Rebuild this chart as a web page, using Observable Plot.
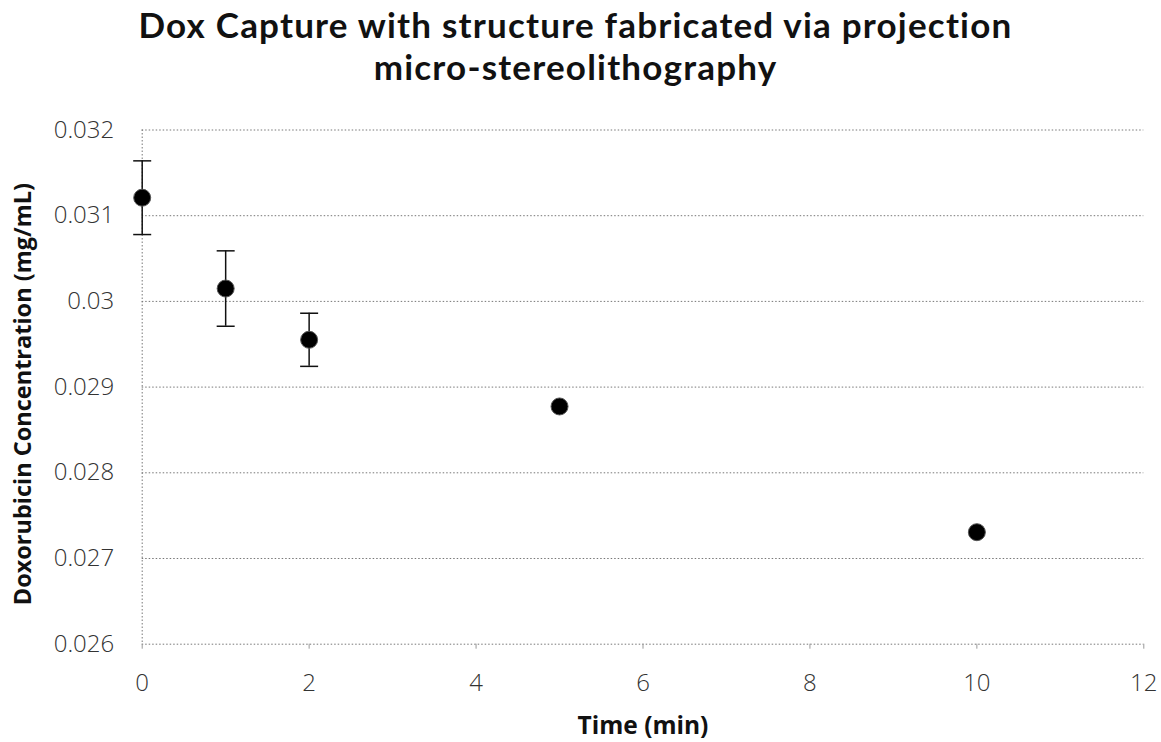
<!DOCTYPE html>
<html>
<head>
<meta charset="utf-8">
<script src="https://cdn.jsdelivr.net/npm/d3@7"></script>
<script src="https://cdn.jsdelivr.net/npm/@observablehq/plot@0.6"></script>
<style>
  html, body { margin: 0; padding: 0; background: #fff; }
  #title {
    width: 1161px; height: 100px; box-sizing: border-box;
    padding-top: 3px; padding-right: 10px;
    text-align: center; font-family: Lato, sans-serif; font-weight: 700;
    font-size: 35px; line-height: 42px; letter-spacing: 1.2px; color: #111;
  }
  svg { display: block; }
</style>
</head>
<body>
<div id="title">Dox Capture with structure fabricated via projection<br>micro-stereolithography</div>
<div id="chart"></div>
<script>
const times = [0, 1, 2, 5, 10];
const concentration = [0.03121, 0.03015, 0.029552, 0.028774, 0.027307];
const errors = [0.00043, 0.00044, 0.00031, 0, 0];
const xTicks = [0, 2, 4, 6, 8, 10, 12];
const yTicks = [0.026, 0.027, 0.028, 0.029, 0.030, 0.031, 0.032];
const yTickLabels = ["0.026", "0.027", "0.028", "0.029", "0.03", "0.031", "0.032"];

const data = times.map((t, i) => ({t, c: concentration[i], lo: concentration[i] - errors[i], hi: concentration[i] + errors[i], e: errors[i]}));
const withErr = data.filter(d => d.e > 0);

const capSymbol = {
  draw(context, size) {
    const w = Math.sqrt(size / Math.PI);
    context.moveTo(-w, 0);
    context.lineTo(w, 0);
  }
};

const chart = Plot.plot({
  width: 1161,
  height: 642,
  marginTop: 29.5,
  marginBottom: 98.3,
  marginLeft: 141.7,
  marginRight: 17.7,
  style: {fontFamily: "'Open Sans', sans-serif", background: "#fff"},
  x: {domain: [0, 12]},
  y: {domain: [0.026, 0.032]},
  marks: [
    Plot.gridY(yTicks, {stroke: "#777", strokeOpacity: 1, strokeDasharray: "1.5,2", strokeWidth: 1}),
    Plot.ruleX([0], {stroke: "#777", strokeDasharray: "1.5,2", strokeWidth: 1}),
    Plot.axisX(xTicks, {tickSize: 5, stroke: "#999", tickPadding: 25, fontSize: 24, fontWeight: 300, fill: "#333", label: null}),
    Plot.axisY(yTicks, {tickSize: 0, tickPadding: 28, fontSize: 24, fontWeight: 300, fill: "#333", tickFormat: (d, i) => yTickLabels[i], label: null}),
    Plot.text(["Time (min)"], {frameAnchor: "bottom", dy: 90, fontSize: 24.5, fontWeight: "bold", fill: "#111"}),
    Plot.text(["Doxorubicin Concentration (mg/mL)"], {frameAnchor: "left", textAnchor: "middle", dx: -119, dy: 7, rotate: -90, fontSize: 23.5, fontWeight: "bold", fill: "#111"}),
    Plot.ruleX(withErr, {x: "t", y1: "lo", y2: "hi", stroke: "#111", strokeWidth: 1.5}),
    Plot.dot(withErr, {x: "t", y: "lo", symbol: capSymbol, r: 9, stroke: "#111", strokeWidth: 1.5}),
    Plot.dot(withErr, {x: "t", y: "hi", symbol: capSymbol, r: 9, stroke: "#111", strokeWidth: 1.5}),
    Plot.dot(data, {x: "t", y: "c", r: 8.5, fill: "#000", stroke: "#555", strokeWidth: 1})
  ]
});
document.getElementById("chart").appendChild(chart);
</script>
</body>
</html>
